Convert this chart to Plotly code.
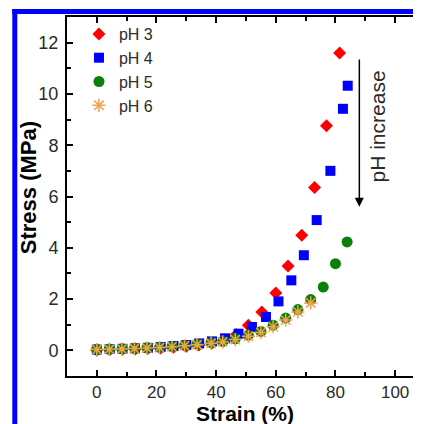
import plotly.graph_objects as go

# ---- data ----
strain_ph3 = [0, 4.3, 8.6, 12.9, 17.1, 21.4, 25.7, 30.0, 34.2, 38.5, 42.8, 46.8,
              50.8, 55.3, 60.0, 64.1, 68.7, 73.0, 77.0, 81.4]
stress_ph3 = [0.0, 0.02, 0.04, 0.05, 0.07, 0.09, 0.12, 0.16, 0.21, 0.28, 0.40, 0.62,
              0.98, 1.50, 2.24, 3.29, 4.49, 6.35, 8.76, 11.6]

strain_ph4 = [0, 4.3, 8.6, 12.8, 17.1, 21.4, 25.7, 30.0, 34.3, 38.6, 43.0, 47.5,
              52.0, 56.7, 60.9, 65.2, 69.4, 73.7, 78.3, 82.5, 84.1]
stress_ph4 = [0.03, 0.05, 0.06, 0.08, 0.10, 0.13, 0.17, 0.21, 0.27, 0.35, 0.47, 0.65,
              0.91, 1.30, 1.91, 2.73, 3.71, 5.08, 7.00, 9.42, 10.32]

strain_ph5 = [0, 4.2, 8.4, 12.6, 16.8, 21.0, 25.2, 29.4, 33.6, 38.3, 42.2, 46.4,
              50.8, 55.0, 59.1, 63.3, 67.4, 71.7, 75.9, 80.0, 83.9]
stress_ph5 = [0.04, 0.05, 0.06, 0.08, 0.10, 0.12, 0.15, 0.19, 0.24, 0.30, 0.35, 0.45,
              0.59, 0.74, 0.98, 1.26, 1.59, 1.98, 2.47, 3.38, 4.23]

strain_ph6 = [0, 4.2, 8.4, 12.6, 16.8, 21.0, 25.2, 29.4, 33.6, 38.3, 42.2, 46.4,
              50.8, 55.0, 59.1, 63.3, 67.4, 71.7]
stress_ph6 = [0.03, 0.04, 0.05, 0.07, 0.09, 0.11, 0.14, 0.18, 0.22, 0.28, 0.33, 0.42,
              0.55, 0.70, 0.92, 1.18, 1.50, 1.85]

series_names = ["pH 3", "pH 4", "pH 5", "pH 6"]
x_ticks = [0, 20, 40, 60, 80, 100]
y_ticks = [0, 2, 4, 6, 8, 10, 12]

FONT = "Liberation Sans, Arial, sans-serif"
TXT = "#2a2a2a"

fig = go.Figure()
fig.add_trace(go.Scatter(x=strain_ph3, y=stress_ph3, mode="markers", name=series_names[0],
                         marker=dict(symbol="diamond", size=10, color="#ff0000", line=dict(width=0))))
fig.add_trace(go.Scatter(x=strain_ph4, y=stress_ph4, mode="markers", name=series_names[1],
                         marker=dict(symbol="square", size=10, color="#0000ff", line=dict(width=0))))
fig.add_trace(go.Scatter(x=strain_ph5, y=stress_ph5, mode="markers", name=series_names[2],
                         marker=dict(symbol="circle", size=11, color="#0a800a", line=dict(width=0))))
fig.add_trace(go.Scatter(x=strain_ph6, y=stress_ph6, mode="markers", name=series_names[3],
                         marker=dict(symbol="asterisk-open", size=11, color="#f4a04c",
                                     line=dict(width=1.5, color="#f4a04c"))))

axis_common = dict(
    showgrid=False, zeroline=False, showline=True, linecolor="black", linewidth=2,
    mirror="ticks", ticks="inside", ticklen=6, tickwidth=1.5, tickcolor="black",
)

fig.update_xaxes(range=[-10, 108], tickvals=x_ticks, ticklabelstandoff=0,
                 tickfont=dict(family=FONT, size=17, color=TXT),
                 minor=dict(dtick=10, ticks="inside", ticklen=4, tickwidth=1.5, tickcolor="black"),
                 **axis_common)
fig.update_yaxes(range=[-1, 13], tickvals=y_ticks, ticklabelstandoff=3,
                 tickfont=dict(family=FONT, size=18, color=TXT),
                 minor=dict(dtick=1, ticks="inside", ticklen=4, tickwidth=1.5, tickcolor="black"),
                 **axis_common)

# the page body adds an 8px offset, so the figure is 8px smaller than the window
fig.update_layout(
    width=413, height=416,
    margin=dict(l=59, r=0, t=9, b=48),
    plot_bgcolor="white", paper_bgcolor="white",
    showlegend=True,
    legend=dict(x=0.034, y=1.0, xanchor="left", yanchor="top",
                font=dict(family=FONT, size=16, color=TXT),
                bgcolor="rgba(0,0,0,0)", tracegroupgap=0),
    font=dict(family=FONT),
)

# axis titles
fig.add_annotation(text="<b>Strain (%)</b>", xref="paper", yref="paper", x=0.5056, y=-0.104,
                   xanchor="center", yanchor="middle", showarrow=False,
                   font=dict(family=FONT, size=21, color="black"))
fig.add_annotation(text="<b>Stress (MPa)</b>", xref="paper", yref="paper", x=-0.1073, y=0.5237,
                   xanchor="center", yanchor="middle", showarrow=False, textangle=-90,
                   font=dict(family=FONT, size=22, color="black"))

# pH increase label + arrow
fig.add_annotation(text="pH increase", x=94, y=8.74, xref="x", yref="y",
                   showarrow=False, textangle=-90, xanchor="center", yanchor="middle",
                   font=dict(family=FONT, size=21, color=TXT))
fig.add_annotation(text="", x=88, y=5.6, ax=88, ay=11.4, xref="x", yref="y",
                   axref="x", ayref="y", showarrow=True, arrowhead=2, arrowsize=1.2,
                   arrowwidth=1.5, arrowcolor="black")

# blue frame (left and top edges of the cropped figure)
fig.add_shape(type="rect", xref="paper", yref="paper", x0=-0.1554, x1=-0.1412,
              y0=-0.14, y1=1.0223, fillcolor="#0000ff", line=dict(width=0), layer="above")
fig.add_shape(type="rect", xref="paper", yref="paper", x0=-0.1554, x1=1.01,
              y0=1.0084, y1=1.0223, fillcolor="#0000ff", line=dict(width=0), layer="above")

fig.write_html("out.html")
